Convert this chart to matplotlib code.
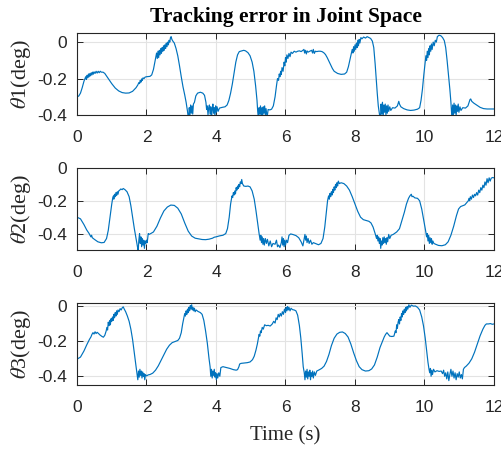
import numpy as np
import matplotlib
matplotlib.use("Agg")
import matplotlib.pyplot as plt

plt.rcParams["axes.unicode_minus"] = False
plt.rcParams["mathtext.fontset"] = "stix"

# Sampled tracking error per joint: (time [s], error [deg])
theta1_pts = [
    (0.00, -0.300), (0.05, -0.296), (0.10, -0.280), (0.15, -0.250), (0.20, -0.215),
    (0.23, -0.200), (0.25, -0.190), (0.27, -0.205), (0.29, -0.182), (0.31, -0.196),
    (0.33, -0.175), (0.35, -0.190), (0.37, -0.172), (0.39, -0.185), (0.41, -0.168),
    (0.43, -0.180), (0.45, -0.165), (0.47, -0.176), (0.49, -0.163), (0.52, -0.172),
    (0.55, -0.160), (0.58, -0.170), (0.61, -0.160), (0.64, -0.168), (0.67, -0.160),
    (0.70, -0.165), (0.75, -0.165), (0.80, -0.172), (0.90, -0.200), (1.00, -0.228),
    (1.10, -0.252), (1.20, -0.268), (1.30, -0.277), (1.40, -0.280), (1.50, -0.279),
    (1.60, -0.270), (1.70, -0.250), (1.75, -0.235), (1.78, -0.222), (1.80, -0.228),
    (1.82, -0.210), (1.84, -0.220), (1.86, -0.202), (1.88, -0.210), (1.90, -0.196),
    (1.93, -0.200), (1.96, -0.192), (2.00, -0.190), (2.10, -0.188), (2.15, -0.180),
    (2.20, -0.150), (2.24, -0.110), (2.27, -0.080), (2.29, -0.060), (2.31, -0.090),
    (2.33, -0.050), (2.35, -0.085), (2.37, -0.045), (2.39, -0.070), (2.41, -0.035),
    (2.43, -0.062), (2.45, -0.030), (2.47, -0.050), (2.49, -0.020), (2.51, -0.045),
    (2.53, -0.015), (2.55, -0.035), (2.57, -0.005), (2.59, -0.025), (2.61, 0.000),
    (2.63, -0.015), (2.65, 0.010), (2.67, 0.000), (2.69, 0.025), (2.71, 0.030),
    (2.73, 0.015), (2.76, 0.005), (2.80, -0.005), (2.85, -0.035), (2.90, -0.075),
    (2.95, -0.130), (3.00, -0.190), (3.05, -0.245), (3.10, -0.290), (3.14, -0.330),
    (3.18, -0.380), (3.21, -0.430), (3.23, -0.360), (3.25, -0.400), (3.27, -0.345),
    (3.29, -0.390), (3.31, -0.350), (3.33, -0.395), (3.35, -0.340), (3.38, -0.330),
    (3.42, -0.295), (3.47, -0.280), (3.55, -0.275), (3.62, -0.280), (3.67, -0.292),
    (3.71, -0.330), (3.73, -0.370), (3.75, -0.350), (3.77, -0.400), (3.79, -0.360),
    (3.81, -0.345), (3.83, -0.395), (3.85, -0.355), (3.87, -0.420), (3.89, -0.370),
    (3.91, -0.340), (3.93, -0.390), (3.95, -0.360), (3.97, -0.405), (3.99, -0.350),
    (4.01, -0.385), (4.03, -0.355), (4.06, -0.380), (4.10, -0.362), (4.18, -0.358),
    (4.26, -0.355), (4.32, -0.345), (4.37, -0.320), (4.42, -0.280), (4.47, -0.230),
    (4.52, -0.170), (4.57, -0.110), (4.62, -0.070), (4.67, -0.052), (4.75, -0.048),
    (4.80, -0.045), (4.85, -0.048), (4.92, -0.058), (4.98, -0.075), (5.04, -0.110),
    (5.09, -0.160), (5.14, -0.240), (5.18, -0.320), (5.20, -0.380), (5.22, -0.420),
    (5.24, -0.360), (5.26, -0.395), (5.28, -0.350), (5.30, -0.410), (5.32, -0.360),
    (5.34, -0.420), (5.36, -0.355), (5.38, -0.390), (5.40, -0.350), (5.42, -0.400),
    (5.44, -0.365), (5.47, -0.415), (5.50, -0.370), (5.55, -0.372), (5.60, -0.368),
    (5.65, -0.350), (5.70, -0.300), (5.74, -0.240), (5.77, -0.200), (5.80, -0.210),
    (5.82, -0.175), (5.84, -0.190), (5.86, -0.160), (5.88, -0.178), (5.90, -0.140),
    (5.93, -0.160), (5.96, -0.110), (5.98, -0.130), (6.00, -0.085), (6.02, -0.110),
    (6.04, -0.070), (6.07, -0.090), (6.10, -0.062), (6.13, -0.080), (6.16, -0.055),
    (6.20, -0.062), (6.25, -0.050), (6.30, -0.055), (6.35, -0.050), (6.40, -0.048),
    (6.45, -0.052), (6.50, -0.045), (6.53, -0.040), (6.55, -0.060), (6.57, -0.045),
    (6.60, -0.065), (6.62, -0.048), (6.65, -0.055), (6.70, -0.050), (6.75, -0.045),
    (6.78, -0.060), (6.80, -0.040), (6.83, -0.062), (6.86, -0.050), (6.90, -0.052),
    (6.95, -0.050), (7.00, -0.050), (7.05, -0.052), (7.10, -0.058), (7.15, -0.068),
    (7.20, -0.085), (7.25, -0.105), (7.30, -0.125), (7.35, -0.145), (7.40, -0.160),
    (7.50, -0.172), (7.60, -0.177), (7.70, -0.175), (7.76, -0.165), (7.81, -0.135),
    (7.85, -0.100), (7.89, -0.065), (7.92, -0.040), (7.94, -0.060), (7.96, -0.025),
    (7.98, -0.050), (8.00, -0.015), (8.02, -0.040), (8.04, -0.005), (8.06, -0.030),
    (8.08, 0.010), (8.10, -0.020), (8.12, 0.015), (8.14, -0.005), (8.17, 0.025),
    (8.20, 0.018), (8.25, 0.028), (8.30, 0.022), (8.35, 0.030), (8.40, 0.025),
    (8.45, 0.020), (8.50, 0.005), (8.54, -0.030), (8.58, -0.120), (8.61, -0.200),
    (8.64, -0.280), (8.67, -0.350), (8.70, -0.390), (8.73, -0.430), (8.75, -0.340),
    (8.77, -0.395), (8.79, -0.330), (8.81, -0.410), (8.83, -0.345), (8.85, -0.385),
    (8.87, -0.340), (8.89, -0.400), (8.91, -0.350), (8.93, -0.390), (8.95, -0.345),
    (8.97, -0.380), (9.00, -0.355), (9.03, -0.375), (9.08, -0.360), (9.15, -0.362),
    (9.22, -0.350), (9.26, -0.325), (9.28, -0.340), (9.32, -0.355), (9.40, -0.365),
    (9.50, -0.372), (9.60, -0.375), (9.70, -0.373), (9.80, -0.368), (9.86, -0.360),
    (9.90, -0.320), (9.94, -0.260), (9.98, -0.180), (10.02, -0.110), (10.04, -0.075),
    (10.06, -0.100), (10.08, -0.050), (10.10, -0.085), (10.12, -0.035), (10.14, -0.070),
    (10.16, -0.020), (10.18, -0.050), (10.20, -0.010), (10.22, -0.040), (10.25, 0.000),
    (10.28, -0.020), (10.31, 0.010), (10.34, 0.000), (10.37, 0.030), (10.42, 0.038),
    (10.47, 0.035), (10.52, 0.025), (10.57, 0.008), (10.61, -0.030), (10.65, -0.100),
    (10.69, -0.180), (10.73, -0.260), (10.76, -0.330), (10.79, -0.420), (10.81, -0.345),
    (10.83, -0.400), (10.85, -0.335), (10.87, -0.390), (10.89, -0.345), (10.91, -0.405),
    (10.93, -0.350), (10.95, -0.380), (10.97, -0.340), (10.99, -0.385), (11.02, -0.355),
    (11.05, -0.375), (11.10, -0.360), (11.18, -0.362), (11.25, -0.350), (11.31, -0.315),
    (11.33, -0.312), (11.36, -0.325), (11.42, -0.335), (11.50, -0.345), (11.60, -0.358),
    (11.70, -0.365), (11.80, -0.367), (11.90, -0.367), (12.00, -0.367),
]

theta2_pts = [
    (0.00, -0.300), (0.10, -0.310), (0.20, -0.345), (0.28, -0.378), (0.35, -0.400),
    (0.40, -0.420), (0.42, -0.410), (0.44, -0.425), (0.50, -0.435), (0.60, -0.450),
    (0.70, -0.456), (0.78, -0.454), (0.85, -0.430), (0.90, -0.380), (0.95, -0.300),
    (1.00, -0.220), (1.03, -0.180), (1.05, -0.170), (1.06, -0.190), (1.08, -0.160),
    (1.10, -0.175), (1.12, -0.150), (1.14, -0.168), (1.16, -0.145), (1.18, -0.160),
    (1.20, -0.140), (1.23, -0.135), (1.26, -0.128), (1.30, -0.132), (1.33, -0.125),
    (1.38, -0.132), (1.44, -0.145), (1.50, -0.175), (1.55, -0.230), (1.60, -0.300),
    (1.65, -0.370), (1.70, -0.430), (1.74, -0.480), (1.76, -0.510), (1.78, -0.440),
    (1.80, -0.400), (1.82, -0.460), (1.84, -0.420), (1.86, -0.480), (1.88, -0.430),
    (1.90, -0.470), (1.92, -0.440), (1.94, -0.490), (1.96, -0.445), (1.98, -0.460),
    (2.00, -0.440), (2.02, -0.455), (2.05, -0.400), (2.07, -0.405), (2.12, -0.400),
    (2.20, -0.390), (2.30, -0.355), (2.40, -0.305), (2.50, -0.262), (2.60, -0.238),
    (2.70, -0.226), (2.80, -0.228), (2.90, -0.245), (3.00, -0.280), (3.10, -0.335),
    (3.20, -0.385), (3.30, -0.415), (3.40, -0.428), (3.50, -0.432), (3.60, -0.436),
    (3.70, -0.437), (3.80, -0.434), (3.90, -0.428), (3.95, -0.422), (4.00, -0.420),
    (4.10, -0.414), (4.20, -0.410), (4.28, -0.400), (4.33, -0.370), (4.38, -0.300),
    (4.42, -0.220), (4.46, -0.170), (4.48, -0.180), (4.50, -0.150), (4.52, -0.165),
    (4.54, -0.140), (4.56, -0.158), (4.58, -0.120), (4.60, -0.135), (4.62, -0.110),
    (4.64, -0.125), (4.66, -0.100), (4.68, -0.115), (4.70, -0.085), (4.72, -0.095),
    (4.74, -0.070), (4.76, -0.095), (4.80, -0.110), (4.86, -0.112), (4.92, -0.110),
    (4.98, -0.115), (5.04, -0.140), (5.10, -0.190), (5.15, -0.260), (5.20, -0.340),
    (5.24, -0.400), (5.27, -0.440), (5.29, -0.410), (5.31, -0.455), (5.33, -0.420),
    (5.35, -0.465), (5.37, -0.430), (5.39, -0.470), (5.42, -0.430), (5.45, -0.460),
    (5.48, -0.435), (5.52, -0.475), (5.56, -0.445), (5.60, -0.480), (5.64, -0.460),
    (5.70, -0.465), (5.74, -0.440), (5.77, -0.480), (5.80, -0.470), (5.84, -0.485),
    (5.88, -0.455), (5.90, -0.420), (5.92, -0.470), (5.94, -0.430), (5.96, -0.480),
    (5.98, -0.440), (6.00, -0.470), (6.03, -0.440), (6.06, -0.455), (6.10, -0.410),
    (6.15, -0.402), (6.22, -0.406), (6.30, -0.412), (6.38, -0.425), (6.45, -0.450),
    (6.50, -0.475), (6.53, -0.440), (6.56, -0.405), (6.58, -0.440), (6.60, -0.415),
    (6.62, -0.455), (6.65, -0.430), (6.68, -0.460), (6.72, -0.440), (6.76, -0.465),
    (6.80, -0.455), (6.88, -0.462), (6.95, -0.468), (7.02, -0.460), (7.08, -0.430),
    (7.13, -0.360), (7.17, -0.280), (7.21, -0.200), (7.24, -0.170), (7.26, -0.190),
    (7.28, -0.155), (7.30, -0.175), (7.32, -0.145), (7.34, -0.165), (7.36, -0.130),
    (7.38, -0.150), (7.40, -0.115), (7.42, -0.135), (7.44, -0.100), (7.46, -0.120),
    (7.48, -0.090), (7.50, -0.110), (7.52, -0.080), (7.55, -0.095), (7.60, -0.090),
    (7.68, -0.095), (7.76, -0.110), (7.84, -0.135), (7.92, -0.175), (8.00, -0.220),
    (8.08, -0.265), (8.16, -0.300), (8.24, -0.315), (8.32, -0.320), (8.40, -0.325),
    (8.46, -0.335), (8.52, -0.360), (8.58, -0.400), (8.62, -0.430), (8.64, -0.410),
    (8.66, -0.445), (8.68, -0.420), (8.70, -0.460), (8.72, -0.430), (8.74, -0.490),
    (8.76, -0.445), (8.78, -0.470), (8.80, -0.425), (8.82, -0.460), (8.84, -0.420),
    (8.86, -0.455), (8.88, -0.430), (8.90, -0.465), (8.92, -0.425), (8.94, -0.450),
    (8.97, -0.405), (9.00, -0.430), (9.04, -0.410), (9.10, -0.405), (9.20, -0.390),
    (9.28, -0.370), (9.35, -0.320), (9.42, -0.270), (9.48, -0.220), (9.54, -0.185),
    (9.58, -0.170), (9.62, -0.160), (9.64, -0.175), (9.67, -0.172), (9.72, -0.182),
    (9.80, -0.185), (9.86, -0.200), (9.92, -0.250), (9.98, -0.320), (10.03, -0.380),
    (10.06, -0.420), (10.08, -0.400), (10.10, -0.445), (10.12, -0.410), (10.14, -0.460),
    (10.16, -0.425), (10.18, -0.455), (10.20, -0.430), (10.22, -0.465), (10.24, -0.445),
    (10.27, -0.460), (10.32, -0.465), (10.40, -0.472), (10.50, -0.474), (10.60, -0.468),
    (10.68, -0.450), (10.76, -0.410), (10.84, -0.355), (10.92, -0.290), (10.98, -0.250),
    (11.04, -0.235), (11.10, -0.230), (11.16, -0.225), (11.22, -0.210), (11.26, -0.200),
    (11.28, -0.185), (11.30, -0.200), (11.32, -0.175), (11.35, -0.190), (11.38, -0.165),
    (11.41, -0.180), (11.44, -0.160), (11.47, -0.170), (11.50, -0.150), (11.53, -0.165),
    (11.56, -0.135), (11.59, -0.150), (11.62, -0.120), (11.65, -0.135), (11.68, -0.105),
    (11.71, -0.120), (11.74, -0.085), (11.77, -0.105), (11.80, -0.065), (11.83, -0.090),
    (11.86, -0.060), (11.89, -0.080), (11.92, -0.062), (11.96, -0.058), (12.00, -0.060),
]

theta3_pts = [
    (0.00, -0.302), (0.10, -0.290), (0.20, -0.255), (0.28, -0.220), (0.33, -0.200),
    (0.36, -0.188), (0.38, -0.182), (0.40, -0.175), (0.43, -0.160), (0.46, -0.150),
    (0.49, -0.158), (0.52, -0.145), (0.55, -0.155), (0.58, -0.148), (0.62, -0.155),
    (0.66, -0.163), (0.72, -0.172), (0.76, -0.176), (0.80, -0.165), (0.84, -0.140),
    (0.86, -0.120), (0.88, -0.135), (0.90, -0.090), (0.92, -0.110), (0.94, -0.080),
    (0.96, -0.105), (0.98, -0.070), (1.00, -0.085), (1.02, -0.060), (1.04, -0.080),
    (1.06, -0.045), (1.08, -0.065), (1.10, -0.035), (1.12, -0.055), (1.14, -0.025),
    (1.16, -0.045), (1.18, -0.020), (1.21, -0.030), (1.24, -0.012), (1.27, -0.020),
    (1.30, -0.008), (1.33, -0.002), (1.36, -0.015), (1.40, -0.030), (1.45, -0.055),
    (1.50, -0.085), (1.55, -0.130), (1.60, -0.190), (1.65, -0.270), (1.70, -0.345),
    (1.73, -0.390), (1.75, -0.420), (1.77, -0.370), (1.79, -0.405), (1.81, -0.360),
    (1.83, -0.395), (1.85, -0.370), (1.87, -0.410), (1.89, -0.375), (1.91, -0.400),
    (1.93, -0.385), (1.95, -0.420), (1.97, -0.390), (2.00, -0.398), (2.05, -0.392),
    (2.10, -0.390), (2.18, -0.382), (2.26, -0.365), (2.34, -0.340), (2.42, -0.308),
    (2.50, -0.275), (2.58, -0.245), (2.66, -0.222), (2.74, -0.207), (2.82, -0.201),
    (2.90, -0.195), (2.95, -0.182), (3.00, -0.150), (3.04, -0.100), (3.08, -0.060),
    (3.10, -0.040), (3.12, -0.055), (3.14, -0.025), (3.16, -0.045), (3.18, -0.015),
    (3.20, -0.035), (3.22, -0.005), (3.24, -0.025), (3.26, 0.005), (3.28, -0.015),
    (3.30, 0.010), (3.32, -0.020), (3.34, -0.005), (3.36, -0.025), (3.38, -0.010),
    (3.40, -0.030), (3.43, -0.020), (3.48, -0.028), (3.55, -0.035), (3.60, -0.045),
    (3.65, -0.080), (3.70, -0.140), (3.75, -0.210), (3.80, -0.300), (3.83, -0.345),
    (3.85, -0.400), (3.87, -0.360), (3.89, -0.410), (3.91, -0.370), (3.93, -0.395),
    (3.95, -0.360), (3.97, -0.405), (3.99, -0.380), (4.01, -0.420), (4.03, -0.385),
    (4.05, -0.410), (4.08, -0.380), (4.11, -0.400), (4.14, -0.350), (4.20, -0.345),
    (4.30, -0.350), (4.40, -0.355), (4.50, -0.362), (4.58, -0.365), (4.62, -0.362),
    (4.66, -0.345), (4.68, -0.330), (4.72, -0.326), (4.80, -0.324), (4.90, -0.322),
    (4.98, -0.318), (5.05, -0.305), (5.10, -0.285), (5.15, -0.250), (5.19, -0.215),
    (5.22, -0.180), (5.24, -0.160), (5.26, -0.170), (5.28, -0.140), (5.30, -0.150),
    (5.33, -0.120), (5.36, -0.130), (5.40, -0.105), (5.45, -0.110), (5.50, -0.108),
    (5.56, -0.112), (5.62, -0.100), (5.66, -0.085), (5.70, -0.095), (5.73, -0.065),
    (5.76, -0.075), (5.79, -0.045), (5.82, -0.060), (5.85, -0.040), (5.88, -0.055),
    (5.91, -0.030), (5.94, -0.045), (5.97, -0.015), (6.00, -0.035), (6.02, -0.005),
    (6.04, -0.025), (6.06, 0.000), (6.08, -0.020), (6.10, -0.005), (6.13, -0.025),
    (6.16, -0.010), (6.20, -0.018), (6.25, -0.020), (6.30, -0.025), (6.35, -0.050),
    (6.40, -0.110), (6.44, -0.180), (6.48, -0.270), (6.51, -0.345), (6.54, -0.380),
    (6.56, -0.420), (6.58, -0.370), (6.60, -0.405), (6.62, -0.360), (6.64, -0.415),
    (6.66, -0.375), (6.68, -0.400), (6.70, -0.365), (6.72, -0.420), (6.74, -0.380),
    (6.76, -0.400), (6.78, -0.370), (6.80, -0.410), (6.83, -0.375), (6.86, -0.395),
    (6.90, -0.370), (6.96, -0.364), (7.04, -0.355), (7.11, -0.342), (7.18, -0.315),
    (7.25, -0.275), (7.32, -0.225), (7.40, -0.182), (7.48, -0.158), (7.56, -0.148),
    (7.64, -0.146), (7.72, -0.155), (7.80, -0.175), (7.88, -0.215), (7.96, -0.265),
    (8.04, -0.310), (8.12, -0.345), (8.20, -0.362), (8.30, -0.370), (8.40, -0.368),
    (8.48, -0.358), (8.56, -0.335), (8.64, -0.290), (8.72, -0.235), (8.78, -0.205),
    (8.84, -0.175), (8.88, -0.160), (8.92, -0.150), (8.96, -0.160), (9.00, -0.170),
    (9.06, -0.172), (9.12, -0.170), (9.16, -0.140), (9.18, -0.150), (9.20, -0.105),
    (9.22, -0.125), (9.24, -0.090), (9.26, -0.075), (9.28, -0.100), (9.30, -0.060),
    (9.32, -0.080), (9.34, -0.040), (9.36, -0.060), (9.38, -0.025), (9.40, -0.045),
    (9.42, -0.015), (9.44, -0.035), (9.46, -0.005), (9.48, -0.025), (9.50, 0.000),
    (9.52, -0.015), (9.55, 0.010), (9.58, -0.005), (9.62, 0.008), (9.68, 0.002),
    (9.74, 0.003), (9.80, -0.005), (9.86, -0.020), (9.92, -0.060), (9.97, -0.110),
    (10.02, -0.180), (10.06, -0.250), (10.10, -0.320), (10.13, -0.360), (10.15, -0.380),
    (10.17, -0.355), (10.19, -0.400), (10.21, -0.365), (10.23, -0.390), (10.26, -0.360),
    (10.30, -0.375), (10.36, -0.368), (10.42, -0.372), (10.48, -0.370), (10.52, -0.385),
    (10.55, -0.365), (10.58, -0.400), (10.61, -0.380), (10.64, -0.415), (10.67, -0.375),
    (10.70, -0.425), (10.73, -0.390), (10.76, -0.360), (10.79, -0.400), (10.82, -0.370),
    (10.85, -0.410), (10.88, -0.380), (10.91, -0.420), (10.94, -0.385), (10.97, -0.405),
    (11.00, -0.375), (11.03, -0.410), (11.06, -0.390), (11.09, -0.415), (11.12, -0.360),
    (11.15, -0.350), (11.20, -0.342), (11.28, -0.325), (11.36, -0.300), (11.44, -0.262),
    (11.52, -0.215), (11.60, -0.168), (11.68, -0.130), (11.74, -0.108), (11.78, -0.100),
    (11.84, -0.100), (11.90, -0.098), (11.95, -0.102), (12.00, -0.100),
]

x_ticks = [0, 2, 4, 6, 8, 10, 12]
y_labels = [r"$\theta$1(deg)", r"$\theta$2(deg)", r"$\theta$3(deg)"]
y_ticks = [[0, -0.2, -0.4], [0, -0.2, -0.4], [0, -0.2, -0.4]]
y_limits = [(-0.4, 0.05), (-0.5, 0.0), (-0.45, 0.02)]
title_text = "Tracking error in Joint Space"
x_label = "Time (s)"

line_color = "#0072BD"
axis_color = "#262626"
serif = "Liberation Serif"
sans = "Liberation Sans"

W, H = 502, 449
fig = plt.figure(figsize=(W / 100, H / 100), dpi=100)

# axes boxes in pixels: (left, top, right, bottom)
boxes = [(77, 33, 494, 115), (77, 168, 494, 250), (77, 303, 494, 385)]

series = [theta1_pts, theta2_pts, theta3_pts]
axes = []
for i, (pts, box) in enumerate(zip(series, boxes)):
    l, t, r, b = box
    ax = fig.add_axes([l / W, 1 - b / H, (r - l) / W, (b - t) / H])
    arr = np.array(pts)
    ax.plot(arr[:, 0], arr[:, 1], color=line_color, lw=0.85)
    ax.set_xlim(0, 12)
    ax.set_ylim(*y_limits[i])
    ax.set_xticks(x_ticks)
    ax.set_xticklabels([str(v) for v in x_ticks])
    ax.set_yticks(y_ticks[i])
    ax.set_yticklabels(["0" if v == 0 else f"{v:g}" for v in y_ticks[i]])
    ax.grid(True, color="#e3e3e3", lw=0.8)
    ax.set_axisbelow(True)
    for sp in ax.spines.values():
        sp.set_color(axis_color)
        sp.set_linewidth(0.8)
    ax.tick_params(direction="in", top=True, right=True, length=4, width=0.7,
                   color=axis_color, labelcolor=axis_color, labelsize=12.5)
    ax.tick_params(axis="x", pad=11)
    ax.tick_params(axis="y", pad=7)
    for lab in ax.get_xticklabels() + ax.get_yticklabels():
        lab.set_fontfamily(sans)
    ax.set_ylabel(y_labels[i], fontsize=16, family=serif, color=axis_color)
    ax.yaxis.set_label_coords(-0.105, 0.5)
    axes.append(ax)

axes[0].set_title(title_text, fontsize=15.5, family=serif, fontweight="bold",
                  color="black", pad=8)
axes[2].set_xlabel(x_label, fontsize=15, family=serif, color=axis_color, labelpad=8)

fig.savefig("out.png", dpi=100)
